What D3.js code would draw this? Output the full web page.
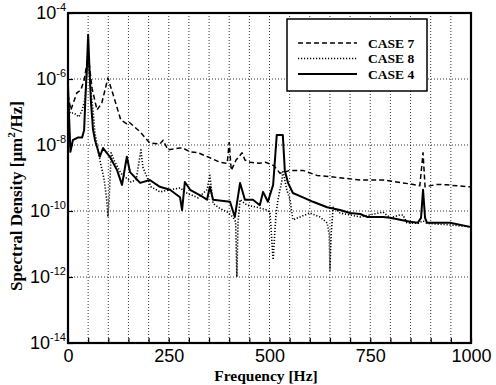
<!DOCTYPE html>
<html><head><meta charset="utf-8">
<script src="https://cdn.jsdelivr.net/npm/d3@7"></script>
<style>
body{margin:0;background:#fff;}
svg{display:block;}
</style></head>
<body>
<script>
// ---- data ----
const freqTicks = [0, 250, 500, 750, 1000];
const yTickExps = [-4, -6, -8, -10, -12, -14];
const legendLabels = ["CASE 7", "CASE 8", "CASE 4"];

const case7F = [0,7,22,32,40,46,50,54,60,72,84,99,114,131,146,151,179,203,228,236,248,278,285,303,323,352,377,395,400,405,417,432,439,452,476,490,510,526,551,583,618,658,725,782,849,873,881,886,916,940,965,998];
const case7V = [3.3e-7,1.15e-7,3.8e-7,4.7e-7,9.3e-7,2.5e-6,6.5e-6,2e-6,5e-7,1.15e-7,1.9e-7,1.07e-6,2.8e-7,5.7e-8,4.4e-8,5e-8,2.5e-8,1.15e-8,1.07e-8,1.4e-8,7.1e-9,8.1e-9,8.1e-9,6.2e-9,5.8e-9,4.1e-9,3e-9,2.8e-9,1.2e-8,1.7e-9,3.5e-9,5.8e-9,3.5e-9,3e-9,2.8e-9,3e-9,2.4e-9,1.4e-9,1.7e-9,1.7e-9,1.2e-9,1.07e-9,8.7e-10,8.7e-10,6.6e-10,5.8e-10,5.8e-9,5.4e-10,6.4e-10,6.2e-10,5.8e-10,5.4e-10];

const case8F = [0,5,15,27,35,42,46,50,54,58,62,67,79,90,96,99,102,107,114,131,156,169,181,186,206,228,253,278,295,323,345,352,360,377,395,409,416,419,422,427,444,469,494,501,509,516,521,531,533,543,551,558,576,600,625,643,648,650,653,658,675,700,725,782,799,824,831,841,868,881,891,948,998];
const case8V = [2.3e-7,9.3e-8,9.3e-8,7.1e-8,1.15e-7,2.3e-7,1.2e-6,4.6e-6,1.2e-6,3e-7,1.15e-7,2.3e-8,3.5e-9,8.7e-10,2.2e-10,6.6e-11,2.2e-10,5.8e-9,3.5e-9,1.4e-9,7.6e-10,8.7e-10,7.1e-9,2.1e-9,5.4e-10,3.8e-10,4.4e-10,5e-10,3.5e-10,2.5e-10,4.4e-10,1.2e-9,1.7e-10,1.2e-10,9.3e-11,6.6e-11,4.7e-11,1e-12,4.7e-11,2.2e-10,1.5e-10,1.3e-10,1.07e-10,9.3e-11,3.3e-12,7.6e-11,2.2e-10,8.7e-10,1.7e-9,4.4e-10,2.2e-10,5.4e-11,6.6e-11,8.7e-11,6.6e-11,4.4e-11,2e-11,1.6e-12,2e-11,1.3e-10,8.7e-11,7.6e-11,6.6e-11,9.3e-11,6.2e-11,7.6e-11,7.6e-11,4.4e-11,4.2e-11,5e-11,4.2e-11,3.8e-11,3.3e-11];

const case4F = [0,3,6,12,25,35,40,43,47,50,53,57,62,67,72,79,87,104,122,134,146,154,179,203,228,253,278,283,290,303,328,345,352,360,402,414,427,439,459,476,484,496,501,509,518,533,538,546,558,583,608,643,675,700,725,742,782,799,849,868,876,881,886,891,948,998];
const case4V = [6.6e-7,5.7e-8,6.2e-9,1.4e-8,1.7e-8,1.7e-8,2.8e-8,2.3e-7,2.5e-6,2.2e-5,2.5e-6,2e-7,3e-8,1.4e-8,8.7e-9,4.4e-9,8.1e-9,4.4e-9,1.7e-9,6.2e-10,4.4e-9,1.5e-9,7.1e-10,8.7e-10,5.4e-10,4.4e-10,2.6e-10,1.07e-10,7.6e-10,4.4e-10,3e-10,2.2e-10,5.4e-10,2.2e-10,1.9e-10,6.6e-11,7.1e-10,2.2e-10,2.2e-10,1.5e-10,3.8e-10,1.9e-10,3e-10,6.2e-10,2e-8,2e-8,1.7e-9,7.1e-10,3.5e-10,2.6e-10,1.9e-10,1.3e-10,1.07e-10,8.7e-11,8.1e-11,6.6e-11,6.6e-11,6.2e-11,4.7e-11,4.4e-11,6.2e-11,4.4e-10,6.2e-11,4.4e-11,4.4e-11,3.3e-11];

// ---- layout ----
const W = 496, H = 385;
const L = 68, R = 471, T = 13, B = 343;

const svg = d3.select("body").append("svg").attr("width", W).attr("height", H);

const x = d3.scaleLinear().domain([0, 1000]).range([L, R]);
const y = d3.scaleLog().domain([1e-14, 1e-4]).range([B, T]);

// grid
const grid = svg.append("g").attr("stroke", "#000").attr("stroke-width", 0.8).attr("stroke-dasharray", "1,2");
grid.selectAll("line.v").data(d3.range(50, 1000, 50)).join("line")
  .attr("x1", d => x(d)).attr("x2", d => x(d)).attr("y1", T).attr("y2", B);
grid.selectAll("line.h").data(yTickExps.slice(1, -1)).join("line")
  .attr("y1", d => y(Math.pow(10, d))).attr("y2", d => y(Math.pow(10, d))).attr("x1", L).attr("x2", R);

// clip
svg.append("clipPath").attr("id", "clip").append("rect")
  .attr("x", L).attr("y", T).attr("width", R - L).attr("height", B - T);

const line = d3.line().x(d => x(d[0])).y(d => y(d[1]));
const series = [
  {f: case7F, v: case7V, dash: "5,3", w: 1.5},
  {f: case8F, v: case8V, dash: "1.2,1.8", w: 1.6},
  {f: case4F, v: case4V, dash: null, w: 2}
];
const lg = svg.append("g").attr("clip-path", "url(#clip)");
series.forEach(s => {
  lg.append("path").datum(s.f.map((f, i) => [f, s.v[i]]))
    .attr("d", line).attr("fill", "none").attr("stroke", "#000")
    .attr("stroke-width", s.w).attr("stroke-dasharray", s.dash)
    .attr("stroke-linejoin", "round");
});

// axes
const xAxis = d3.axisBottom(x).tickValues(d3.range(0, 1001, 50))
  .tickSize(-5).tickPadding(6)
  .tickFormat(d => freqTicks.includes(d) ? d : "");
const gx = svg.append("g").attr("transform", `translate(0,${B})`).call(xAxis);
gx.select(".domain").remove();
gx.selectAll("line").attr("stroke-width", 1.2);
gx.selectAll("text").attr("font-family", "Liberation Sans, Arial, sans-serif")
  .attr("font-size", 18).attr("fill", "#000");

const yAxis = d3.axisLeft(y).tickValues(yTickExps.map(e => Math.pow(10, e)))
  .tickSize(-5).tickPadding(2).tickFormat("");
const gy = svg.append("g").attr("transform", `translate(${L},0)`).call(yAxis);
gy.select(".domain").remove();
gy.selectAll("line").attr("stroke-width", 1.2);
gy.selectAll(".tick text").each(function(d) {
  const t = d3.select(this);
  const e = Math.round(Math.log10(d));
  t.attr("font-family", "Liberation Sans, Arial, sans-serif").attr("font-size", 18).attr("fill", "#000");
  t.append("tspan").text("10");
  t.append("tspan").attr("font-size", 11).attr("dy", "-0.75em").text(String(e).replace("−", "-"));
});

// frame
svg.append("rect").attr("x", L).attr("y", T).attr("width", R - L).attr("height", B - T)
  .attr("fill", "none").attr("stroke", "#000").attr("stroke-width", 2.2);

// titles
svg.append("text").attr("x", 266).attr("y", 381).attr("text-anchor", "middle")
  .attr("font-family", "Liberation Serif, Times New Roman, serif").attr("font-weight", "bold")
  .attr("font-size", 15.5).text("Frequency [Hz]");
const yt = svg.append("text").attr("transform", "translate(22,196) rotate(-90)").attr("text-anchor", "middle")
  .attr("font-family", "Liberation Serif, Times New Roman, serif").attr("font-weight", "bold")
  .attr("font-size", 17);
yt.append("tspan").text("Spectral Density [μm");
yt.append("tspan").attr("font-size", 11).attr("dy", "-0.6em").text("2");
yt.append("tspan").attr("dy", "0.4em").text("/Hz]");

// legend
const leg = svg.append("g");
leg.append("rect").attr("x", 287).attr("y", 19).attr("width", 140).attr("height", 72)
  .attr("fill", "#fff").attr("stroke", "#000").attr("stroke-width", 1.5);
legendLabels.forEach((lab, i) => {
  const yy = 43 + i * 15.5;
  leg.append("line").attr("x1", 298).attr("x2", 357).attr("y1", yy).attr("y2", yy)
    .attr("stroke", "#000").attr("stroke-width", series[i].w).attr("stroke-dasharray", series[i].dash);
  leg.append("text").attr("x", 368).attr("y", yy + 4.5)
    .attr("font-family", "Liberation Serif, Times New Roman, serif").attr("font-weight", "bold")
    .attr("font-size", 13.5).text(lab);
});
</script>
</body></html>
